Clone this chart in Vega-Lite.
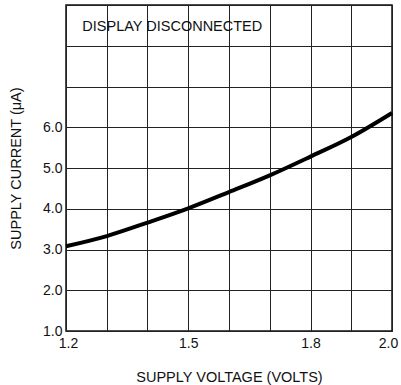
{
  "$schema": "https://vega.github.io/schema/vega-lite/v6.json",
  "width": 326,
  "height": 326,
  "autosize": "none",
  "padding": {"left": 66, "top": 5, "right": 9, "bottom": 54},
  "background": "white",
  "config": {
    "view": {"stroke": "#111", "strokeWidth": 1.5},
    "font": "Liberation Sans",
    "axis": {
      "gridColor": "#222", "gridOpacity": 1, "gridWidth": 1,
      "domain": false, "ticks": false,
      "labelFont": "Liberation Sans", "labelFontSize": 14, "labelColor": "#111",
      "titleFont": "Liberation Sans", "titleFontSize": 14.5, "titleFontWeight": "normal", "titleColor": "#111"
    }
  },
  "layer": [
    {
      "data": {"values": [
        {"v": 1.2, "i": 3.08}, {"v": 1.3, "i": 3.33}, {"v": 1.4, "i": 3.66},
        {"v": 1.5, "i": 4.01}, {"v": 1.6, "i": 4.41}, {"v": 1.7, "i": 4.82},
        {"v": 1.8, "i": 5.28}, {"v": 1.9, "i": 5.76}, {"v": 2.0, "i": 6.35}
      ]},
      "mark": {"type": "line", "color": "#000", "strokeWidth": 4, "interpolate": "monotone"},
      "encoding": {
        "x": {"field": "v", "type": "quantitative",
          "scale": {"domain": [1.2, 2.0], "nice": false, "zero": false},
          "axis": {
            "title": "SUPPLY VOLTAGE (VOLTS)",
            "values": [1.2, 1.3, 1.4, 1.5, 1.6, 1.7, 1.8, 1.9, 2.0],
            "labelExpr": "indexof([12,15,18,20], round(datum.value*10)) >= 0 ? format(datum.value, '.1f') : ''",
            "labelFlush": false,
            "labelOffset": {"expr": "datum.value >= 1.99 ? -4 : (datum.value <= 1.21 ? 2 : 0)"},
            "labelPadding": 5, "titlePadding": 20
          }},
        "y": {"field": "i", "type": "quantitative",
          "scale": {"domain": [1, 9], "nice": false, "zero": false},
          "axis": {
            "title": "SUPPLY CURRENT (μA)",
            "values": [1, 2, 3, 4, 5, 6, 7, 8, 9],
            "labelExpr": "datum.value <= 6 ? format(datum.value, '.1f') : ''",
            "labelFlush": false,
            "labelPadding": 4, "titlePadding": 19
          }}
      }
    },
    {
      "data": {"values": [{"v": 1.24, "i": 8.46, "t": "DISPLAY DISCONNECTED"}]},
      "mark": {"type": "text", "align": "left", "baseline": "middle", "fontSize": 14.5, "color": "#111", "font": "Liberation Sans"},
      "encoding": {
        "x": {"field": "v", "type": "quantitative"},
        "y": {"field": "i", "type": "quantitative"},
        "text": {"field": "t"}
      }
    }
  ]
}
